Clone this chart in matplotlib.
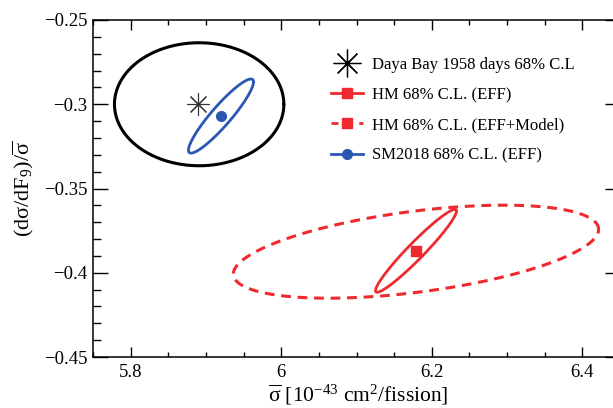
import numpy as np
import matplotlib
matplotlib.use("Agg")
import matplotlib.pyplot as plt
from matplotlib.lines import Line2D
from matplotlib.ticker import MultipleLocator

plt.rcParams['font.family'] = ['Liberation Serif', 'DejaVu Serif']
plt.rcParams['mathtext.fontset'] = 'custom'
plt.rcParams['mathtext.rm'] = 'Liberation Serif'
plt.rcParams['mathtext.it'] = 'Liberation Serif:italic'

# --- data ---
labels = ["Daya Bay 1958 days 68% C.L", "HM 68% C.L. (EFF)",
          "HM 68% C.L. (EFF+Model)", "SM2018 68% C.L. (EFF)"]
# best-fit points (x = sigma, y = dsigma/dF9 / sigma)
dyb_center = (5.890, -0.300)
hm_center = (6.179, -0.387)
sm_center = (5.920, -0.307)
# ellipse parameters: (x center, y center, x half-extent, y half-extent, correlation)
dyb_ell = (5.891, -0.300, 0.1125, 0.0365, 0.0)
hm_eff_ell = (6.179, -0.387, 0.0538, 0.0246, 0.96)
hm_model_ell = (6.179, -0.3875, 0.2426, 0.0276, 0.48)
sm_ell = (5.920, -0.307, 0.0432, 0.0220, 0.92)

red = '#ee2a2e'
blue = '#2b57b2'


def ellipse_xy(p, n=400):
    cx, cy, a, b, rho = p
    t = np.linspace(0, 2 * np.pi, n)
    x = cx + a * np.cos(t)
    y = cy + b * (rho * np.cos(t) + np.sqrt(1 - rho ** 2) * np.sin(t))
    return x, y


fig = plt.figure(figsize=(6.13, 4.08), dpi=100)
ax = fig.add_axes([93 / 613, 51 / 408, 527 / 613, 337 / 408])

kw = dict(solid_capstyle='round', solid_joinstyle='round')
x, y = ellipse_xy(dyb_ell)
ax.plot(x, y, color='black', lw=2.2, **kw)
x, y = ellipse_xy(sm_ell)
ax.plot(x, y, color=blue, lw=2.0, **kw)
x, y = ellipse_xy(hm_eff_ell)
ax.plot(x, y, color=red, lw=2.0, **kw)
x, y = ellipse_xy(hm_model_ell)
ax.plot(x, y, color=red, lw=2.2, dashes=(3.2, 2.2))

ax.plot([dyb_center[0]], [dyb_center[1]], marker=(8, 2, 0), ms=16, mew=0.8,
        color='#333333', ls='none')
ax.plot([sm_center[0]], [sm_center[1]], marker='o', ms=7, color=blue, ls='none')
ax.plot([hm_center[0]], [hm_center[1]], marker='s', ms=6.5, color=red, ls='none')

ax.set_xlim(5.75, 6.45)
ax.set_ylim(-0.45, -0.25)
ax.xaxis.set_major_locator(MultipleLocator(0.2))
ax.xaxis.set_minor_locator(MultipleLocator(0.05))
ax.yaxis.set_major_locator(MultipleLocator(0.05))
ax.yaxis.set_minor_locator(MultipleLocator(0.01))


def fmt(v, pos):
    s = ('%.2f' % v).rstrip('0').rstrip('.')
    return s.replace('-', '\u2212')


ax.xaxis.set_major_formatter(matplotlib.ticker.FuncFormatter(fmt))
ax.yaxis.set_major_formatter(matplotlib.ticker.FuncFormatter(fmt))

ax.tick_params(which='both', direction='in', top=True, right=True,
               labelsize=13.5, width=1.0)
ax.tick_params(axis='x', which='major', length=7.2, pad=5)
ax.tick_params(axis='x', which='minor', length=3.6)
ax.tick_params(axis='y', which='major', length=10.8, pad=4)
ax.tick_params(axis='y', which='minor', length=5.4)
for s in ax.spines.values():
    s.set_linewidth(1.1)

fig.text(358 / 613, 1 / 408,
         r'$\overline{\mathrm{σ}}$ [10$^{-43}$ cm$^{2}$/fission]',
         fontsize=15.5, ha='center', va='bottom')
ax.set_ylabel(r'(d$\mathrm{σ}$/dF$_{9}$)/$\overline{\mathrm{σ}}$',
              fontsize=16, labelpad=6)

handles = [
    Line2D([], [], marker=(8, 2, 0), ms=20, mew=0.9, color='black', ls='none'),
    Line2D([], [], color=red, lw=2.0, marker='s', ms=6.5),
    Line2D([], [], color=red, lw=2.0, dashes=(2.5, 2.5), marker='s', ms=6.5),
    Line2D([], [], color=blue, lw=2.0, marker='o', ms=7),
]
fig.legend(handles, labels, loc='upper left', bbox_to_anchor=(331 / 613, 1 - 57 / 408),
           frameon=False, fontsize=12, handlelength=1.9, handletextpad=0.55,
           labelspacing=0.85, borderaxespad=0, borderpad=0)

fig.savefig('out.png', dpi=100)
